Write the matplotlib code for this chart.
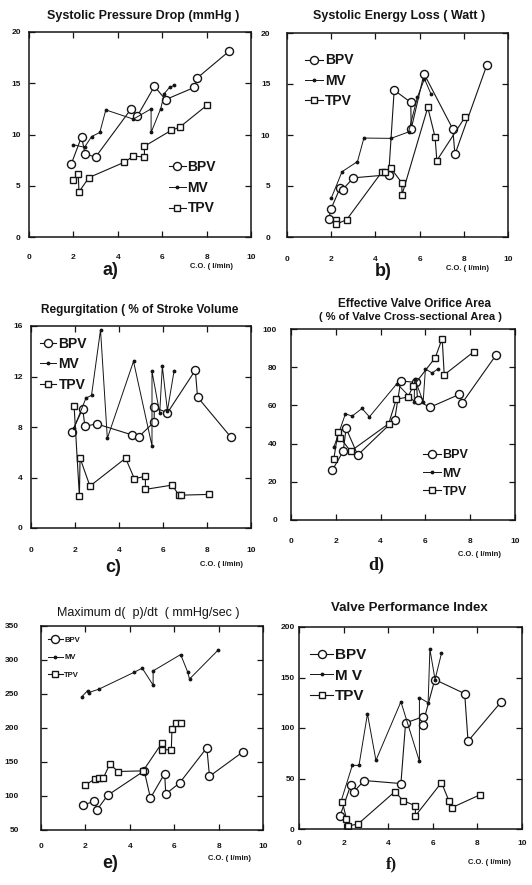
import matplotlib
matplotlib.use('Agg')
import matplotlib.pyplot as plt

plt.rcParams['font.family'] = ['Liberation Sans', 'DejaVu Sans']
plt.rcParams['font.weight'] = 'bold'

# a) systolic pressure drop
a_bpv_x = [1.9, 2.37, 2.52, 3.0, 4.6, 4.88, 5.65, 6.15, 7.45, 7.57, 9.0]
a_bpv_y = [7.1, 9.8, 8.1, 7.8, 12.5, 11.8, 14.7, 13.4, 14.6, 15.5, 18.1]
a_mv_x = [2.0, 2.5, 2.82, 3.19, 3.46, 4.7, 5.5, 5.5, 5.93, 6.1, 6.33, 6.55]
a_mv_y = [9.0, 8.75, 9.8, 10.2, 12.4, 11.5, 12.5, 10.2, 12.5, 14.0, 14.6, 14.8]
a_tpv_x = [2.0, 2.22, 2.25, 2.7, 4.3, 4.7, 5.2, 5.2, 6.4, 6.78, 8.04]
a_tpv_y = [5.6, 6.1, 4.4, 5.8, 7.3, 7.9, 7.8, 8.85, 10.4, 10.7, 12.9]

# b) systolic energy loss
b_bpv_x = [1.9, 1.98, 2.4, 2.52, 3.0, 4.6, 4.85, 5.6, 5.62, 6.2, 7.5, 7.6, 9.05]
b_bpv_y = [1.8, 2.7, 4.8, 4.65, 5.8, 6.1, 14.4, 13.2, 10.6, 16.0, 10.6, 8.1, 16.9]
b_mv_x = [2.0, 2.49, 3.19, 3.48, 4.71, 5.5, 5.9, 6.22, 6.52]
b_mv_y = [3.8, 6.4, 7.4, 9.7, 9.67, 10.3, 13.7, 15.5, 14.0]
b_tpv_x = [2.2, 2.22, 2.7, 4.3, 4.45, 4.7, 5.2, 5.2, 6.37, 6.7, 6.78, 8.07]
b_tpv_y = [1.7, 1.25, 1.7, 6.4, 6.35, 6.75, 5.3, 4.1, 12.7, 9.8, 7.5, 11.8]

# c) regurgitation
c_bpv_x = [1.86, 2.35, 2.45, 2.98, 4.6, 4.9, 5.6, 5.6, 6.2, 7.47, 7.57, 9.07]
c_bpv_y = [7.6, 9.45, 8.05, 8.25, 7.37, 7.23, 8.4, 9.57, 9.12, 12.5, 10.37, 7.23]
c_mv_x = [1.95, 2.5, 2.75, 3.16, 3.47, 4.66, 5.5, 5.5, 5.85, 5.97, 6.2, 6.5]
c_mv_y = [7.9, 10.3, 10.5, 15.7, 7.1, 13.2, 6.5, 12.4, 9.1, 12.8, 9.3, 12.4]
c_tpv_x = [1.96, 2.2, 2.23, 2.68, 4.3, 4.7, 5.2, 5.2, 6.42, 6.72, 6.8, 8.07]
c_tpv_y = [9.63, 2.53, 5.53, 3.32, 5.53, 3.9, 4.1, 3.06, 3.4, 2.6, 2.6, 2.66]

# d) effective valve orifice area
d_bpv_x = [1.84, 2.33, 2.46, 2.98, 4.63, 4.9, 5.6, 5.65, 6.2, 7.52, 7.65, 9.15]
d_bpv_y = [26, 36, 48, 34, 52.6, 72.8, 72, 62.6, 59, 65.8, 61.4, 86.3]
d_mv_x = [1.91, 2.43, 2.73, 3.17, 3.5, 4.73, 5.5, 5.52, 5.9, 6.0, 6.3, 6.55]
d_mv_y = [38, 55.6, 54.4, 58.4, 54, 71.4, 62, 74, 62, 79, 77, 79]
d_tpv_x = [1.91, 2.1, 2.2, 2.66, 4.36, 4.7, 5.22, 5.45, 6.44, 6.75, 6.84, 8.15]
d_tpv_y = [31.9, 46, 43, 36, 50.4, 63.2, 64.4, 70, 85, 95, 76, 88]

# e) maximum dp/dt
e_bpv_x = [1.91, 2.4, 2.53, 3.0, 4.65, 4.93, 5.57, 5.62, 6.24, 7.47, 7.59, 9.1]
e_bpv_y = [87, 92, 80, 101, 137, 97, 133, 103, 119, 171, 129, 165]
e_mv_x = [1.84, 2.1, 2.14, 2.6, 4.2, 4.56, 5.05, 5.05, 6.29, 6.6, 6.69, 7.96]
e_mv_y = [246, 255, 252, 257, 282, 288, 263, 284, 308, 283, 272, 314]
e_tpv_x = [1.99, 2.43, 2.6, 2.8, 3.1, 3.47, 4.6, 5.45, 5.45, 5.87, 5.9, 6.1, 6.32]
e_tpv_y = [116, 125, 126, 126, 147, 136, 137, 178, 168, 168, 199, 207, 207]

# f) valve performance index
f_bpv_x = [1.84, 2.33, 2.46, 2.93, 4.57, 4.78, 5.54, 5.54, 6.09, 7.43, 7.58, 9.07]
f_bpv_y = [13, 44, 37, 48, 45, 105, 111, 103, 148, 134, 87, 126]
f_mv_x = [1.88, 2.39, 2.69, 3.07, 3.45, 4.57, 5.4, 5.4, 5.79, 5.87, 6.1, 6.39]
f_mv_y = [27, 63, 63, 114, 68, 126, 67, 130, 125, 178, 148, 174]
f_tpv_x = [1.94, 2.13, 2.2, 2.65, 4.3, 4.67, 5.22, 5.22, 6.39, 6.72, 6.84, 8.13]
f_tpv_y = [27, 10, 3, 5, 37, 28, 23, 13, 46, 28, 21, 34]

W, H = 532, 885
ink = '#151515'
fig = plt.figure(figsize=(W / 100, H / 100), dpi=100)


def px_box(l, r, t, b):
    return [l / W, 1 - b / H, (r - l) / W, (b - t) / H]


def ftext(x, y, s, **kw):
    fig.text(x / W, 1 - y / H, s, ha='center', va='center', color=ink, **kw)


def panel(box, bpv, mv, tpv, ylim, ystep, ypad, xpad, leg_at, leg_fs, hlen,
          lspace, labels=('BPV', 'MV', 'TPV')):
    ax = fig.add_axes(px_box(*box))
    ax.plot(bpv[0], bpv[1], '-o', color=ink, lw=0.8, ms=5.8, mfc='white',
            mew=1.0, label=labels[0])
    ax.plot(mv[0], mv[1], '-', marker='.', color=ink, lw=0.7, ms=3.5,
            label=labels[1])
    ax.plot(tpv[0], tpv[1], '-s', color=ink, lw=0.8, ms=5, mfc='white',
            mew=1.0, label=labels[2])
    ax.set_xlim(0, 10)
    ax.set_ylim(*ylim)
    ax.set_xticks(range(0, 11, 2))
    ax.set_yticks(range(ylim[0], ylim[1] + 1, ystep))
    ax.tick_params(direction='in', top=True, right=True, length=4, width=0.9,
                   labelsize=6, colors=ink)
    ax.tick_params(axis='x', pad=xpad)
    ax.tick_params(axis='y', pad=ypad)
    for s in ax.spines.values():
        s.set_linewidth(1.1)
        s.set_color(ink)
    ax.legend(loc='upper left', bbox_to_anchor=leg_at, frameon=False,
              fontsize=leg_fs, handlelength=hlen, handletextpad=0.15,
              borderpad=0, borderaxespad=0, labelspacing=lspace, numpoints=1,
              labelcolor=ink)
    return ax


panel((29, 251, 32, 237), (a_bpv_x, a_bpv_y), (a_mv_x, a_mv_y), (a_tpv_x, a_tpv_y),
      (0, 20), 5, 6, 12, (0.63, 0.375), 10, 1.2, 0.48)
panel((287, 508, 33, 237), (b_bpv_x, b_bpv_y), (b_mv_x, b_mv_y), (b_tpv_x, b_tpv_y),
      (0, 20), 5, 12, 14, (0.08, 0.90), 10, 1.3, 0.45)
panel((31, 251, 326, 528), (c_bpv_x, c_bpv_y), (c_mv_x, c_mv_y), (c_tpv_x, c_tpv_y),
      (0, 16), 4, 6, 14, (0.04, 0.945), 10, 1.2, 0.45)
panel((291, 515, 329, 520), (d_bpv_x, d_bpv_y), (d_mv_x, d_mv_y), (d_tpv_x, d_tpv_y),
      (0, 100), 20, 10, 13, (0.59, 0.37), 9, 1.4, 0.5)
panel((41, 263, 626, 830), (e_bpv_x, e_bpv_y), (e_mv_x, e_mv_y), (e_tpv_x, e_tpv_y),
      (50, 350), 50, 16, 9, (0.03, 0.95), 5.5, 2.0, 1.35)
panel((299, 522, 627, 829), (f_bpv_x, f_bpv_y), (f_mv_x, f_mv_y), (f_tpv_x, f_tpv_y),
      (0, 200), 50, 3, 8, (0.05, 0.895), 11, 1.5, 0.42, labels=('BPV', 'M V', 'TPV'))

# titles
ftext(143, 16, 'Systolic Pressure Drop (mmHg )', fontsize=9)
ftext(399, 16, 'Systolic Energy Loss ( Watt )', fontsize=9)
ftext(140, 310, 'Regurgitation ( % of Stroke Volume', fontsize=8.5)
ftext(414, 304, 'Effective Valve Orifice Area', fontsize=8.5)
ftext(410, 317, '( % of Valve Cross-sectional Area )', fontsize=8)
ftext(148, 613, 'Maximum d(  p)/dt  ( mmHg/sec )', fontsize=9, fontweight='normal')
ftext(409, 608, 'Valve Performance Index', fontsize=9.5)

# axis captions
for x, y in [(212, 266), (468, 268), (222, 564), (480, 555), (229, 858), (490, 862)]:
    ftext(x, y, 'C.O. ( l/min)', fontsize=5.5)

# panel letters
ftext(110, 270, 'a)', fontsize=13)
ftext(383, 272, 'b)', fontsize=13)
ftext(113, 568, 'c)', fontsize=13)
ftext(376, 565, 'd)', fontsize=13, family='Liberation Serif')
ftext(110, 864, 'e)', fontsize=13)
ftext(391, 864, 'f)', fontsize=12, family='Liberation Serif')

fig.savefig('out.png', dpi=100, facecolor='white')
